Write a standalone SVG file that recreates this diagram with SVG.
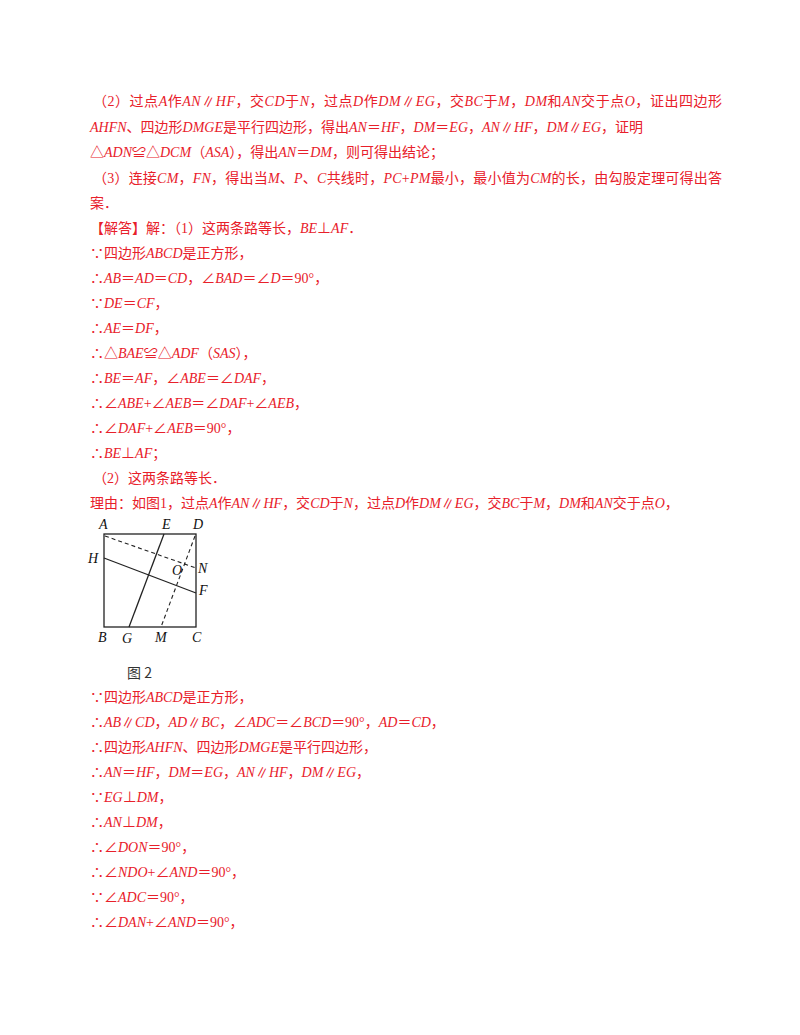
<svg xmlns="http://www.w3.org/2000/svg" width="800" height="1035" viewBox="0 0 800 1035">
<style>
.t{font-family:"Liberation Serif","Noto Sans CJK SC",serif;font-size:14px;fill:#e8202a}
.i{font-style:italic}
.l{font-family:"Liberation Serif",serif;font-style:italic;font-size:14px;fill:#111}
.s{stroke:#222;stroke-width:1.3;fill:none}
.d{stroke:#222;stroke-width:1.1;fill:none;stroke-dasharray:4 3}
</style>
<rect width="800" height="1035" fill="#fff"/>
<g id="text">
<text class="t" x="93" y="106" textLength="629">（2）过点<tspan class="i">A</tspan>作<tspan class="i">AN</tspan>∥<tspan class="i">HF</tspan>，交<tspan class="i">CD</tspan>于<tspan class="i">N</tspan>，过点<tspan class="i">D</tspan>作<tspan class="i">DM</tspan>∥<tspan class="i">EG</tspan>，交<tspan class="i">BC</tspan>于<tspan class="i">M</tspan>，<tspan class="i">DM</tspan>和<tspan class="i">AN</tspan>交于点<tspan class="i">O</tspan>，证出四边形</text>
<text class="t" x="90" y="132"><tspan class="i">AHFN</tspan>、四边形<tspan class="i">DMGE</tspan>是平行四边形，得出<tspan class="i">AN</tspan>＝<tspan class="i">HF</tspan>，<tspan class="i">DM</tspan>＝<tspan class="i">EG</tspan>，<tspan class="i">AN</tspan>∥<tspan class="i">HF</tspan>，<tspan class="i">DM</tspan>∥<tspan class="i">EG</tspan>，证明</text>
<text class="t" x="90" y="157">△<tspan class="i">ADN</tspan>≌△<tspan class="i">DCM</tspan>（<tspan class="i">ASA</tspan>），得出<tspan class="i">AN</tspan>＝<tspan class="i">DM</tspan>，则可得出结论；</text>
<text class="t" x="93" y="183" textLength="629">（3）连接<tspan class="i">CM</tspan>，<tspan class="i">FN</tspan>，得出当<tspan class="i">M</tspan>、<tspan class="i">P</tspan>、<tspan class="i">C</tspan>共线时，<tspan class="i">PC</tspan>+<tspan class="i">PM</tspan>最小，最小值为<tspan class="i">CM</tspan>的长，由勾股定理可得出答</text>
<text class="t" x="90" y="208">案．</text>
<text class="t" x="90" y="233">【解答】解：（1）这两条路等长，<tspan class="i">BE</tspan>⊥<tspan class="i">AF</tspan>．</text>
<text class="t" x="90" y="258">∵四边形<tspan class="i">ABCD</tspan>是正方形，</text>
<text class="t" x="90" y="283">∴<tspan class="i">AB</tspan>＝<tspan class="i">AD</tspan>＝<tspan class="i">CD</tspan>，∠<tspan class="i">BAD</tspan>＝∠<tspan class="i">D</tspan>＝90°，</text>
<text class="t" x="90" y="308">∵<tspan class="i">DE</tspan>＝<tspan class="i">CF</tspan>，</text>
<text class="t" x="90" y="333">∴<tspan class="i">AE</tspan>＝<tspan class="i">DF</tspan>，</text>
<text class="t" x="90" y="358">∴△<tspan class="i">BAE</tspan>≌△<tspan class="i">ADF</tspan>（<tspan class="i">SAS</tspan>），</text>
<text class="t" x="90" y="383">∴<tspan class="i">BE</tspan>＝<tspan class="i">AF</tspan>，∠<tspan class="i">ABE</tspan>＝∠<tspan class="i">DAF</tspan>，</text>
<text class="t" x="90" y="408">∴∠<tspan class="i">ABE</tspan>+∠<tspan class="i">AEB</tspan>＝∠<tspan class="i">DAF</tspan>+∠<tspan class="i">AEB</tspan>，</text>
<text class="t" x="90" y="433">∴∠<tspan class="i">DAF</tspan>+∠<tspan class="i">AEB</tspan>＝90°，</text>
<text class="t" x="90" y="458">∴<tspan class="i">BE</tspan>⊥<tspan class="i">AF</tspan>；</text>
<text class="t" x="93" y="483">（2）这两条路等长．</text>
<text class="t" x="90" y="508">理由：如图1，过点<tspan class="i">A</tspan>作<tspan class="i">AN</tspan>∥<tspan class="i">HF</tspan>，交<tspan class="i">CD</tspan>于<tspan class="i">N</tspan>，过点<tspan class="i">D</tspan>作<tspan class="i">DM</tspan>∥<tspan class="i">EG</tspan>，交<tspan class="i">BC</tspan>于<tspan class="i">M</tspan>，<tspan class="i">DM</tspan>和<tspan class="i">AN</tspan>交于点<tspan class="i">O</tspan>，</text>
<text class="t" x="90" y="702">∵四边形<tspan class="i">ABCD</tspan>是正方形，</text>
<text class="t" x="90" y="727">∴<tspan class="i">AB</tspan>∥<tspan class="i">CD</tspan>，<tspan class="i">AD</tspan>∥<tspan class="i">BC</tspan>，∠<tspan class="i">ADC</tspan>＝∠<tspan class="i">BCD</tspan>＝90°，<tspan class="i">AD</tspan>＝<tspan class="i">CD</tspan>，</text>
<text class="t" x="90" y="752">∴四边形<tspan class="i">AHFN</tspan>、四边形<tspan class="i">DMGE</tspan>是平行四边形，</text>
<text class="t" x="90" y="777">∴<tspan class="i">AN</tspan>＝<tspan class="i">HF</tspan>，<tspan class="i">DM</tspan>＝<tspan class="i">EG</tspan>，<tspan class="i">AN</tspan>∥<tspan class="i">HF</tspan>，<tspan class="i">DM</tspan>∥<tspan class="i">EG</tspan>，</text>
<text class="t" x="90" y="802">∵<tspan class="i">EG</tspan>⊥<tspan class="i">DM</tspan>，</text>
<text class="t" x="90" y="827">∴<tspan class="i">AN</tspan>⊥<tspan class="i">DM</tspan>，</text>
<text class="t" x="90" y="852">∴∠<tspan class="i">DON</tspan>＝90°，</text>
<text class="t" x="90" y="877">∴∠<tspan class="i">NDO</tspan>+∠<tspan class="i">AND</tspan>＝90°，</text>
<text class="t" x="90" y="902">∵∠<tspan class="i">ADC</tspan>＝90°，</text>
<text class="t" x="90" y="927">∴∠<tspan class="i">DAN</tspan>+∠<tspan class="i">AND</tspan>＝90°，</text>
</g>
<g id="figure">
<rect x="104" y="534" width="92" height="93" class="s"/>
<line x1="164" y1="534" x2="129" y2="627" class="s"/>
<line x1="104" y1="558" x2="196" y2="593" class="s"/>
<line x1="105" y1="536" x2="196" y2="568" class="d"/>
<line x1="195" y1="536" x2="161" y2="627" class="d"/>
<text class="l" x="99" y="529">A</text>
<text class="l" x="162" y="529">E</text>
<text class="l" x="193" y="529">D</text>
<text class="l" x="88" y="563">H</text>
<text class="l" x="198" y="573">N</text>
<text class="l" x="172" y="575">O</text>
<text class="l" x="199" y="595">F</text>
<text class="l" x="98" y="642">B</text>
<text class="l" x="122" y="643">G</text>
<text class="l" x="155" y="642">M</text>
<text class="l" x="192" y="642">C</text>
<text x="127" y="678" style="font-family:'Noto Sans CJK SC',sans-serif;font-size:14px;fill:#333">图 2</text>
</g>
</svg>
